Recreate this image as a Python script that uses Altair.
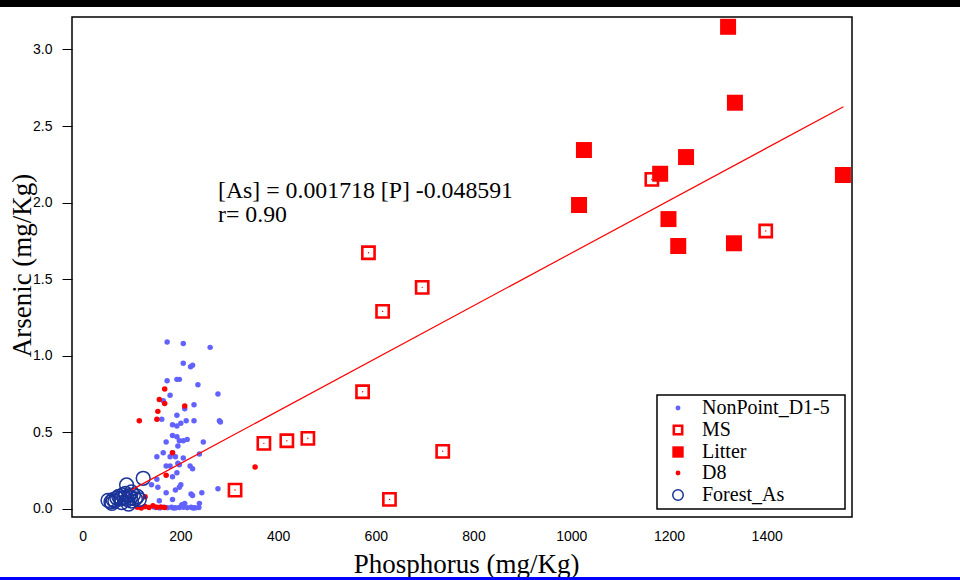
import altair as alt
import pandas as pd

series_names = ["NonPoint_D1-5", "MS", "Litter", "D8", "Forest_As"]

# NonPoint_D1-5 (Phosphorus, Arsenic)
np_p = [173, 206, 261, 206, 221, 225, 173, 193, 198, 236, 179, 277, 165, 209, 228,
        193, 162, 212, 228, 280, 282, 184, 193, 201, 184, 193, 198, 206, 214, 171,
        247, 195, 165, 152, 184, 179, 190, 206, 239, 171, 179, 195, 198, 220, 225,
        184, 193, 152, 141, 154, 201, 198, 190, 171, 222, 225, 244, 277, 184, 157,
        239, 203, 209,
        150, 158, 166, 174, 182, 190, 198, 206, 214, 222, 230, 238, 146, 186, 226]
np_as = [1.089, 1.080, 1.054, 0.950, 0.927, 0.937, 0.836, 0.845, 0.845, 0.810, 0.741, 0.749, 0.705, 0.653, 0.679,
         0.610, 0.584, 0.575, 0.575, 0.575, 0.566, 0.549, 0.540, 0.558, 0.479, 0.470, 0.444, 0.444, 0.453, 0.436,
         0.436, 0.410, 0.366, 0.340, 0.366, 0.340, 0.340, 0.331, 0.357, 0.279, 0.279, 0.297, 0.287, 0.279, 0.261,
         0.209, 0.235, 0.192, 0.157, 0.140, 0.157, 0.140, 0.122, 0.105, 0.096, 0.087, 0.105, 0.131, 0.061, 0.052,
         0.035, 0.026, 0.035,
         0.008, 0.006, 0.010, 0.007, 0.009, 0.006, 0.008, 0.010, 0.007, 0.009, 0.006, 0.008, 0.012, 0.004, 0.005]

# MS
ms_p = [1165, 1398, 585, 695, 614, 573, 737, 628, 371, 418, 461, 312]
ms_as = [2.151, 1.814, 1.672, 1.446, 1.289, 0.764, 0.375, 0.061, 0.427, 0.444, 0.460, 0.122]

# Litter
lit_p = [1321, 1335, 1026, 1235, 1182, 1556, 1016, 1199, 1219, 1333]
lit_as = [3.148, 2.652, 2.343, 2.297, 2.188, 2.180, 1.984, 1.892, 1.716, 1.734]

# D8
d8_p = [168, 157, 168, 209, 154, 116, 152, 184, 171, 128, 353,
        112, 120, 128, 136, 144, 152, 160, 168]
d8_as = [0.782, 0.714, 0.688, 0.671, 0.636, 0.575, 0.584, 0.366, 0.218, 0.078, 0.272,
         0.010, 0.005, 0.015, 0.008, 0.020, 0.010, 0.012, 0.008]

# Forest_As
forest_p = [124, 90, 52, 58, 62, 66, 70, 74, 78, 82, 86, 88, 92, 95, 98, 100, 104,
            108, 112, 116, 80, 94, 60, 100]
forest_as = [0.199, 0.155, 0.055, 0.045, 0.060, 0.050, 0.070, 0.080, 0.065, 0.090, 0.075,
             0.100, 0.060, 0.085, 0.070, 0.050, 0.090, 0.065, 0.080, 0.060, 0.040, 0.030,
             0.035, 0.110]

# regression line end points
line_p = [100, 1557]
line_as = [0.123, 2.626]

eq_lines = ["[As] = 0.001718 [P] -0.048591", "r= 0.90"]

x_ticks = [0, 200, 400, 600, 800, 1000, 1200, 1400]
y_ticks = [0.0, 0.5, 1.0, 1.5, 2.0, 2.5, 3.0]

BLUE = "#6262ff"
RED = "#ff0000"
NAVY = "#1a3399"
SERIF = "Liberation Serif"
SANS = "Liberation Sans"

W, H = 780, 500
xs = alt.Scale(domain=[-21.7, 1574.6], nice=False, zero=False)
ys = alt.Scale(domain=[-0.054, 3.212], nice=False, zero=False)


def df(p, a):
    return pd.DataFrame({"P": p, "As": a})


x_axis = alt.Axis(values=x_ticks, format="d", ticks=False, grid=False, domain=False,
                  labelFont=SANS, labelFontSize=14, labelColor="#000",
                  labelPadding=12, title="Phosphorus (mg/Kg)",
                  titleFont=SERIF, titleFontSize=27, titleFontWeight="normal",
                  titleColor="#000", titleX=394, titleY=55, titleBaseline="alphabetic")
y_axis = alt.Axis(values=y_ticks, format=".1f", grid=False, domain=False,
                  tickSize=10, tickColor="#000", tickWidth=1,
                  labelFont=SANS, labelFontSize=14, labelColor="#000",
                  labelPadding=10, title="Arsenic (mg/Kg)",
                  titleFont=SERIF, titleFontSize=27, titleFontWeight="normal",
                  titleColor="#000", titleX=-42, titleY=248, titleBaseline="alphabetic")

base_np = alt.Chart(df(np_p, np_as)).mark_circle(size=30, color=BLUE, opacity=1).encode(
    x=alt.X("P:Q", scale=xs, axis=x_axis),
    y=alt.Y("As:Q", scale=ys, axis=y_axis),
)


def enc():
    return dict(x=alt.X("P:Q", scale=xs), y=alt.Y("As:Q", scale=ys))


ms = alt.Chart(df(ms_p, ms_as)).mark_point(shape="square", size=150, filled=False,
                                           stroke=RED, strokeWidth=2.6, opacity=1).encode(**enc())
ms_dot = alt.Chart(df(ms_p, ms_as)).mark_circle(size=2, color=RED, opacity=1).encode(**enc())
lit = alt.Chart(df(lit_p, lit_as)).mark_square(size=256, color=RED, opacity=1).encode(**enc())
d8 = alt.Chart(df(d8_p, d8_as)).mark_circle(size=30, color=RED, opacity=1).encode(**enc())
forest = alt.Chart(df(forest_p, forest_as)).mark_point(shape="circle", size=190, filled=False,
                                                       stroke=NAVY, strokeWidth=1.5, opacity=1).encode(**enc())
reg = alt.Chart(df(line_p, line_as)).mark_line(color=RED, strokeWidth=1.2).encode(**enc())

dummy = pd.DataFrame({"d": [0]})

eq1 = alt.Chart(dummy).mark_text(text=eq_lines[0], align="left", baseline="alphabetic",
                                 font=SERIF, fontSize=23.8, color="#000").encode(
    x=alt.value(146), y=alt.value(181))
eq2 = alt.Chart(dummy).mark_text(text=eq_lines[1], align="left", baseline="alphabetic",
                                 font=SERIF, fontSize=23.8, color="#000").encode(
    x=alt.value(146), y=alt.value(205))

# legend
leg_box = alt.Chart(dummy).mark_rect(fill="white", stroke="#000", strokeWidth=1.5).encode(
    x=alt.value(585), x2=alt.value(773), y=alt.value(378), y2=alt.value(492))
row_y = [391, 413, 435, 456, 478]
sym_x = 606
leg_layers = [leg_box]
sym_marks = [
    alt.MarkDef(type="circle", size=24, color=BLUE, opacity=1),
    alt.MarkDef(type="point", shape="square", size=70, filled=False, stroke=RED, strokeWidth=2.6, opacity=1),
    alt.MarkDef(type="square", size=130, color=RED, opacity=1),
    alt.MarkDef(type="circle", size=24, color=RED, opacity=1),
    alt.MarkDef(type="point", shape="circle", size=110, filled=False, stroke=NAVY, strokeWidth=1.5, opacity=1),
]
for name, yy, mk in zip(series_names, row_y, sym_marks):
    leg_layers.append(alt.Chart(dummy, mark=mk).encode(x=alt.value(sym_x), y=alt.value(yy)))
    leg_layers.append(alt.Chart(dummy).mark_text(text=name, align="left", baseline="middle",
                                                 font=SERIF, fontSize=20, color="#000").encode(
        x=alt.value(630), y=alt.value(yy)))

top_bar = alt.Chart(dummy).mark_rule(color="#000", strokeWidth=7).encode(
    x=alt.value(-72), x2=alt.value(888), y=alt.value(-13.5))
bottom_bar = alt.Chart(dummy).mark_rule(color="#0000ff", strokeWidth=3).encode(
    x=alt.value(-72), x2=alt.value(888), y=alt.value(561.5))

chart = alt.layer(
    base_np, ms, ms_dot, lit, d8, forest, reg, eq1, eq2, *leg_layers, top_bar, bottom_bar
).properties(
    width=W, height=H,
    padding={"left": 72, "top": 17, "right": 108, "bottom": 63},
    autosize=alt.AutoSizeParams(type="none"),
    background="white",
).configure_view(stroke="#000", strokeWidth=1.5)

chart.save("out.html", embed_options={"renderer": "svg", "actions": False})
